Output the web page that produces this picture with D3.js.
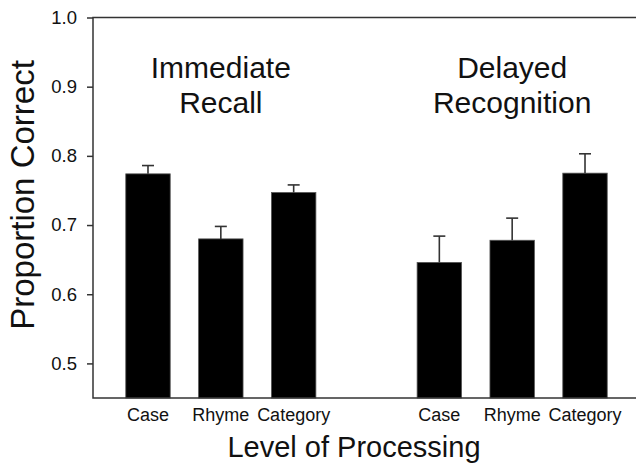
<!DOCTYPE html>
<html>
<head>
<meta charset="utf-8">
<script src="https://cdn.jsdelivr.net/npm/d3@7"></script>
<style>
  body { margin: 0; background: #fff; }
  svg text { font-family: "Liberation Sans", Arial, sans-serif; fill: #111; }
</style>
</head>
<body>
<div id="chart"></div>
<script>
// data
const levels = ["Case", "Rhyme", "Category"];
const conditions = ["Immediate Recall", "Delayed Recognition"];
const immediateMeans = [0.774, 0.680, 0.747];
const immediateErr = [0.012, 0.018, 0.011];
const delayedMeans = [0.646, 0.678, 0.775];
const delayedErr = [0.038, 0.032, 0.028];
const yTicks = [0.5, 0.6, 0.7, 0.8, 0.9, 1.0];

const width = 636,
      height = 467,
      margin = ({ top: 17.5, right: -4, bottom: 69, left: 93 });

// one row per bar, with an empty slot between the two groups
let rows = [];
levels.forEach((l, i) => rows.push({ slot: "I-" + l, level: l, mean: immediateMeans[i], err: immediateErr[i] }));
levels.forEach((l, i) => rows.push({ slot: "D-" + l, level: l, mean: delayedMeans[i], err: delayedErr[i] }));
const slots = ["I-Case", "I-Rhyme", "I-Category", "gap", "D-Case", "D-Rhyme", "D-Category"];

let svg = d3.select("#chart")
    .append("svg")
    .attr("width", width)
    .attr("height", height);

let x = d3.scaleBand()
    .domain(slots)
    .range([margin.left, width - margin.right])
    .paddingInner(0.39)
    .paddingOuter(0.45);

let y = d3.scaleLinear()
    .domain([0.45, 1.0])
    .range([height - margin.bottom, margin.top]);

// bars
svg.selectAll(".bar")
    .data(rows)
    .join("rect")
    .attr("class", "bar")
    .attr("x", d => x(d.slot))
    .attr("width", x.bandwidth())
    .attr("y", d => y(d.mean))
    .attr("height", d => y(0.45) - y(d.mean))
    .attr("fill", "#000")
    .attr("stroke", "#555")
    .attr("stroke-width", 0.8);

// error bars (upper half only)
let err = svg.selectAll(".err")
    .data(rows)
    .join("g")
    .attr("class", "err")
    .attr("stroke", "#333")
    .attr("stroke-width", 1.6);

err.append("line")
    .attr("x1", d => x(d.slot) + x.bandwidth() / 2)
    .attr("x2", d => x(d.slot) + x.bandwidth() / 2)
    .attr("y1", d => y(d.mean))
    .attr("y2", d => y(d.mean + d.err));

err.append("line")
    .attr("x1", d => x(d.slot) + x.bandwidth() / 2 - 6)
    .attr("x2", d => x(d.slot) + x.bandwidth() / 2 + 6)
    .attr("y1", d => y(d.mean + d.err))
    .attr("y2", d => y(d.mean + d.err));

// frame
svg.append("rect")
    .attr("x", margin.left)
    .attr("y", margin.top)
    .attr("width", width - margin.right - margin.left)
    .attr("height", y(0.45) - margin.top)
    .attr("fill", "none")
    .attr("stroke", "#333")
    .attr("stroke-width", 1.5);

// y axis
let yAxis = svg.append("g")
    .attr("transform", `translate(${margin.left},0)`)
    .call(d3.axisLeft(y).tickValues(yTicks).tickFormat(d3.format(".1f")).tickSize(6).tickPadding(10));
yAxis.select(".domain").remove();
yAxis.selectAll("line").attr("stroke", "#333").attr("stroke-width", 1.5);
yAxis.selectAll("text").style("font-size", "18.5px").attr("fill", "#111");

// category labels under bars
svg.selectAll(".cat")
    .data(rows)
    .join("text")
    .attr("class", "cat")
    .attr("x", d => x(d.slot) + x.bandwidth() / 2)
    .attr("y", 421)
    .attr("text-anchor", "middle")
    .style("font-size", "18px")
    .text(d => d.level);

// group titles
const titleSlots = ["I-Rhyme", "D-Rhyme"];
conditions.forEach((c, i) => {
    let t = svg.append("text")
        .attr("text-anchor", "middle")
        .style("font-size", "30px");
    c.split(" ").forEach((w, j) => {
        t.append("tspan")
            .attr("x", x(titleSlots[i]) + x.bandwidth() / 2)
            .attr("y", 78 + j * 35)
            .text(w);
    });
});

// axis titles
svg.append("text")
    .attr("x", 354)
    .attr("y", 457)
    .attr("text-anchor", "middle")
    .style("font-size", "29px")
    .text("Level of Processing");

svg.append("text")
    .attr("transform", "translate(34,195) rotate(-90)")
    .attr("text-anchor", "middle")
    .style("font-size", "33px")
    .text("Proportion Correct");
</script>
</body>
</html>
